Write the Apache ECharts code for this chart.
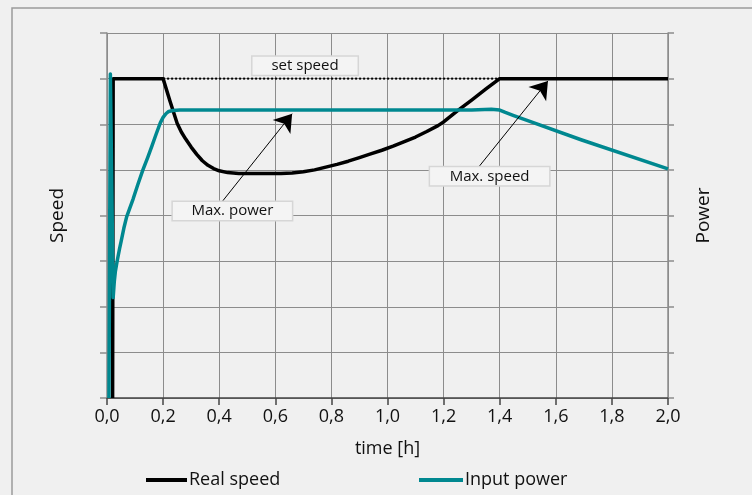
<!DOCTYPE html>
<html><head><meta charset="utf-8">
<script src="https://cdn.jsdelivr.net/npm/echarts@6/dist/echarts.min.js"></script>
<style>html,body{margin:0;padding:0;background:#f0f0f0}#c{width:752px;height:495px}</style>
</head><body><div id="c"></div>
<script>
var xTickLabels = ['0,0','0,2','0,4','0,6','0,8','1,0','1,2','1,4','1,6','1,8','2,0'];
var seriesNames = ['Real speed','Input power'];
var realSpeed = [[0.02,0],[0.022,7],[0.2,7],[0.225,6.5],[0.25,6.02],[0.265,5.83],[0.28,5.68],[0.3,5.5],[0.32,5.34],[0.34,5.2],[0.36,5.1],[0.38,5.03],[0.4,4.98],[0.43,4.94],[0.47,4.92],[0.55,4.92],[0.62,4.92],[0.66,4.93],[0.7,4.96],[0.74,5.0],[0.78,5.06],[0.82,5.12],[0.86,5.19],[0.9,5.27],[0.94,5.35],[0.98,5.43],[1.02,5.52],[1.06,5.62],[1.1,5.72],[1.14,5.84],[1.18,5.97],[1.2,6.05],[1.25,6.3],[1.3,6.53],[1.35,6.77],[1.4,7.0],[2.0,7.0]];
var inputPower = [[0.007,0],[0.012,7.1],[0.022,2.2],[0.026,2.55],[0.03,2.78],[0.035,2.96],[0.039,3.09],[0.045,3.28],[0.05,3.42],[0.06,3.72],[0.07,3.97],[0.08,4.14],[0.093,4.36],[0.11,4.68],[0.128,5.0],[0.145,5.27],[0.16,5.52],[0.175,5.78],[0.19,6.03],[0.2,6.15],[0.21,6.23],[0.22,6.28],[0.235,6.3],[0.26,6.31],[1.3,6.31],[1.37,6.33],[1.4,6.31],[1.42,6.26],[1.45,6.19],[1.5,6.08],[1.69,5.66],[2.0,5.02]];
var setSpeed = [[0.2,7],[2.0,7]];
var annotations = [
  {text:'set speed', box:[0.706,7.28], w:105},
  {text:'Max. power', box:[0.447,4.10], w:119, from:[0.41,4.3], to:[0.66,6.23]},
  {text:'Max. speed', box:[1.364,4.86], w:119, from:[1.326,5.07], to:[1.572,6.95]}
];
var FONT = 'Open Sans';
var chart = echarts.init(document.getElementById('c'));
var axisGray = '#8c8c8c';
chart.setOption({
  backgroundColor:'#f0f0f0',
  animation:false,
  textStyle:{fontFamily:FONT,color:'#111'},
  graphic:[{type:'rect',shape:{x:12,y:8,width:760,height:500},style:{fill:'none',stroke:'#9a9a9a',lineWidth:1.5}}],
  grid:{left:107,right:84,top:33,bottom:97},
  legend:[
    {data:[seriesNames[0]],left:141,top:466,icon:'rect',itemWidth:41,itemHeight:4,itemGap:3,textStyle:{fontFamily:FONT,fontSize:18,color:'#111',padding:[0,0,0,-3]}},
    {data:[seriesNames[1]],left:414,top:466,icon:'rect',itemWidth:44,itemHeight:4,itemGap:3,textStyle:{fontFamily:FONT,fontSize:18,color:'#111',padding:[0,0,0,-3]}}
  ],
  xAxis:{type:'value',min:0,max:2,interval:0.2,name:'time [h]',nameLocation:'middle',nameGap:42,
    nameTextStyle:{fontFamily:FONT,fontSize:18,color:'#111'},
    axisLine:{show:true,lineStyle:{color:'#444',width:1.5}},
    axisTick:{show:true,length:7,lineStyle:{color:'#444',width:1.5}},
    axisLabel:{fontFamily:FONT,fontSize:18,color:'#111',margin:10,formatter:function(v){return xTickLabels[Math.round(v/0.2)];}},
    splitLine:{show:true,lineStyle:{color:axisGray,width:1}}},
  yAxis:[
    {type:'value',min:0,max:8,interval:1,name:'Speed',nameLocation:'middle',nameGap:40,nameRotate:90,
      nameTextStyle:{fontFamily:FONT,fontSize:19,color:'#111'},
      axisLine:{show:true,lineStyle:{color:axisGray,width:1.5}},
      axisTick:{show:true,length:7,lineStyle:{color:axisGray,width:1.5}},
      axisLabel:{show:false},splitLine:{show:true,lineStyle:{color:axisGray,width:1}}},
    {type:'value',min:0,max:8,interval:1,position:'right',name:'Power',nameLocation:'middle',nameGap:26,nameRotate:90,
      nameTextStyle:{fontFamily:FONT,fontSize:19,color:'#111'},
      axisLine:{show:true,lineStyle:{color:axisGray,width:1.5}},
      axisTick:{show:true,length:6,lineStyle:{color:axisGray,width:1.5}},
      axisLabel:{show:false},splitLine:{show:false}}
  ],
  series:[
    {name:'set',type:'line',data:setSpeed,symbol:'none',silent:true,lineStyle:{color:'#000',width:2,type:[2,2]},z:2},
    {name:seriesNames[0],type:'line',data:realSpeed,symbol:'none',lineStyle:{color:'#000',width:3.5,join:'round'},itemStyle:{color:'#000'},z:3},
    {name:seriesNames[1],type:'line',yAxisIndex:1,data:inputPower,symbol:'none',lineStyle:{color:'#008890',width:3.5,join:'round'},itemStyle:{color:'#008890'},z:4},
    {name:'ann',type:'line',data:[],z:10,
      markLine:{silent:true,symbol:['none','arrow'],symbolSize:17,label:{show:false},lineStyle:{color:'#000',width:1,type:'solid'},
        itemStyle:{color:'#000'},
        data:annotations.filter(function(a){return a.from;}).map(function(a){return [{coord:a.from},{coord:a.to}];})},
      markPoint:{silent:true,symbol:'rect',symbolSize:1,itemStyle:{color:'rgba(0,0,0,0)'},
        data:annotations.map(function(a){return {coord:a.box,label:{show:true,position:'inside',formatter:a.text,
          fontFamily:FONT,fontSize:15,color:'#111',width:a.w,height:18,lineHeight:18,align:'center',verticalAlign:'middle',
          backgroundColor:'#f4f4f4',borderColor:'#d6d6d6',borderWidth:1.5}};})}}
  ]
});
</script></body></html>
